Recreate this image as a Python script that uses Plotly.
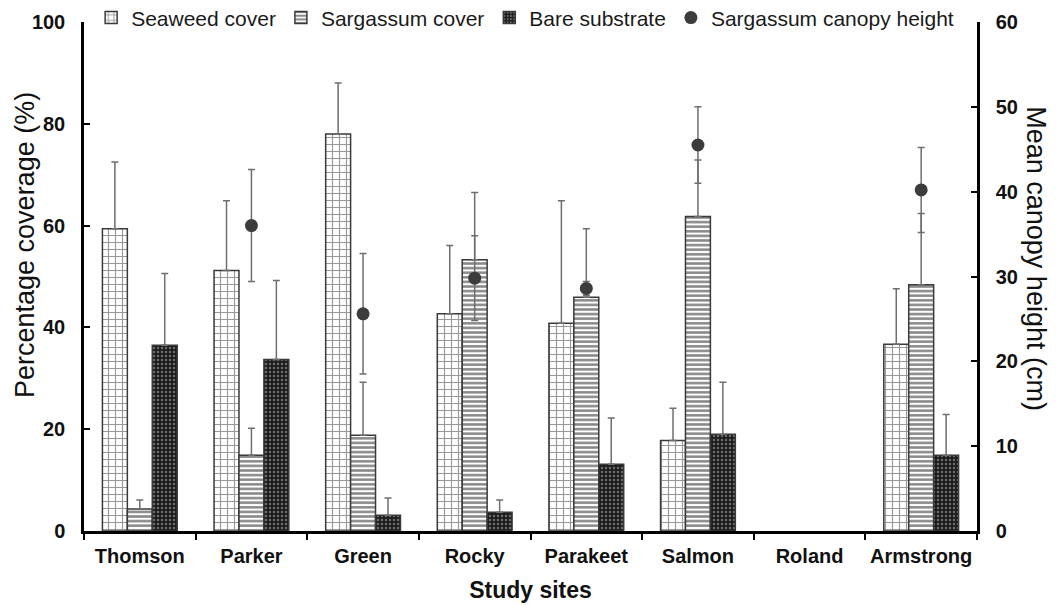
import plotly.graph_objects as go

sites = ["Thomson", "Parker", "Green", "Rocky", "Parakeet", "Salmon", "Roland", "Armstrong"]

seaweed = [59.4, 51.2, 78.0, 42.7, 40.8, 17.8, None, 36.7]
seaweed_err = [13.1, 13.7, 10.0, 13.4, 24.1, 6.3, None, 10.9]

sargassum = [4.3, 14.9, 18.8, 53.3, 45.9, 61.8, None, 48.4]
sargassum_err = [1.8, 5.3, 10.4, 13.2, 13.5, 11.1, None, 14.0]

bare = [36.5, 33.7, 3.1, 3.7, 13.1, 19.0, None, 14.9]
bare_err = [14.1, 15.5, 3.4, 2.4, 9.1, 10.2, None, 8.0]

canopy = [None, 36.0, 25.6, 29.8, 28.6, 45.5, None, 40.2]
canopy_err = [None, 6.6, 7.1, 5.0, 0.8, 4.5, None, 5.0]
canopy_xerr = [None, 0.1, 0.09, 0.1, 0.1, 0.105, None, 0.11]

FONT = "Liberation Sans, Arial, sans-serif"
ERR_COL = "#6e6e6e"
LINE_COL = "#3a3a3a"

def err(vals):
    return dict(type="data", array=vals, symmetric=False,
                arrayminus=[0 if v is not None else None for v in vals],
                color=ERR_COL, thickness=1.5, width=3.5)

fig = go.Figure()
fig.add_trace(go.Bar(
    name="Seaweed cover", x=sites, y=seaweed, error_y=err(seaweed_err),
    marker=dict(color="white", line=dict(color=LINE_COL, width=1.5),
                pattern=dict(shape="+", size=7, solidity=0.3,
                             fgcolor="#333333", bgcolor="white", fillmode="overlay")),
))
fig.add_trace(go.Bar(
    name="Sargassum cover", x=sites, y=sargassum, error_y=err(sargassum_err),
    marker=dict(color="white", line=dict(color=LINE_COL, width=1.5),
                pattern=dict(shape="-", size=4.6, solidity=0.55,
                             fgcolor="#111111", bgcolor="white", fillmode="overlay")),
))
fig.add_trace(go.Bar(
    name="Bare substrate", x=sites, y=bare, error_y=err(bare_err),
    marker=dict(color="#222222", line=dict(color=LINE_COL, width=1.5),
                pattern=dict(shape=".", size=4, solidity=0.3,
                             fgcolor="#bdbdbd", bgcolor="#1c1c1c", fillmode="overlay")),
))
fig.add_trace(go.Scatter(
    name="Sargassum canopy height", x=sites, y=canopy, yaxis="y2", mode="markers",
    marker=dict(color="#3c3c3c", size=13, symbol="circle"),
    error_y=dict(type="data", array=canopy_err, color=ERR_COL, thickness=1.5, width=3.5),
    error_x=dict(type="data", array=canopy_xerr, color=ERR_COL, thickness=1.5, width=3.5),
))

tickfont = dict(family=FONT, size=20, color="#111111", weight="bold")
title_font = dict(family=FONT, size=27, color="#111111")

fig.update_layout(
    width=1057, height=605,
    margin=dict(l=84, r=80, t=22, b=74, autoexpand=False),
    paper_bgcolor="white", plot_bgcolor="white",
    barmode="group", bargap=0.33, bargroupgap=0,
    font=dict(family=FONT, color="#111111"),
    showlegend=True,
    legend=dict(orientation="h", x=0.008, xanchor="left", y=1.008, yanchor="middle",
                font=dict(family=FONT, size=21, color="#1a1a1a"),
                bgcolor="rgba(0,0,0,0)", itemwidth=30, tracegroupgap=0),
    xaxis=dict(
        type="category", categoryorder="array", categoryarray=sites,
        range=[-0.5, 7.5], tickangle=0, automargin=False,
        showline=True, linecolor="black", linewidth=2.5,
        ticks="outside", tickson="boundaries", ticklen=6, tickwidth=2, tickcolor="black",
        tickfont=tickfont, ticklabelstandoff=5, showgrid=False, zeroline=False,
        title=dict(text="Study sites", font=dict(family=FONT, size=23, color="#111111", weight="bold"),
                   standoff=17),
    ),
    yaxis=dict(
        range=[0, 100], dtick=20, showgrid=False, zeroline=False, automargin=False,
        showline=True, linecolor="black", linewidth=2.5,
        ticks="inside", ticklen=6, tickwidth=2, tickcolor="black",
        tickfont=tickfont, ticklabelstandoff=12,
    ),
    yaxis2=dict(
        range=[0, 60], dtick=10, overlaying="y", side="right", automargin=False,
        showgrid=False, zeroline=False,
        showline=True, linecolor="black", linewidth=2.5,
        ticks="inside", ticklen=6, tickwidth=2, tickcolor="black",
        tickfont=tickfont, ticklabelstandoff=12,
    ),
    annotations=[
        dict(text="Percentage coverage (%)", textangle=-90, font=title_font,
             xref="paper", yref="paper", x=-0.066, y=0.562,
             xanchor="center", yanchor="middle", showarrow=False),
        dict(text="Mean canopy height (cm)", textangle=90, font=title_font,
             xref="paper", yref="paper", x=1.066, y=0.534,
             xanchor="center", yanchor="middle", showarrow=False),
    ],
)

fig.write_html("out.html")
